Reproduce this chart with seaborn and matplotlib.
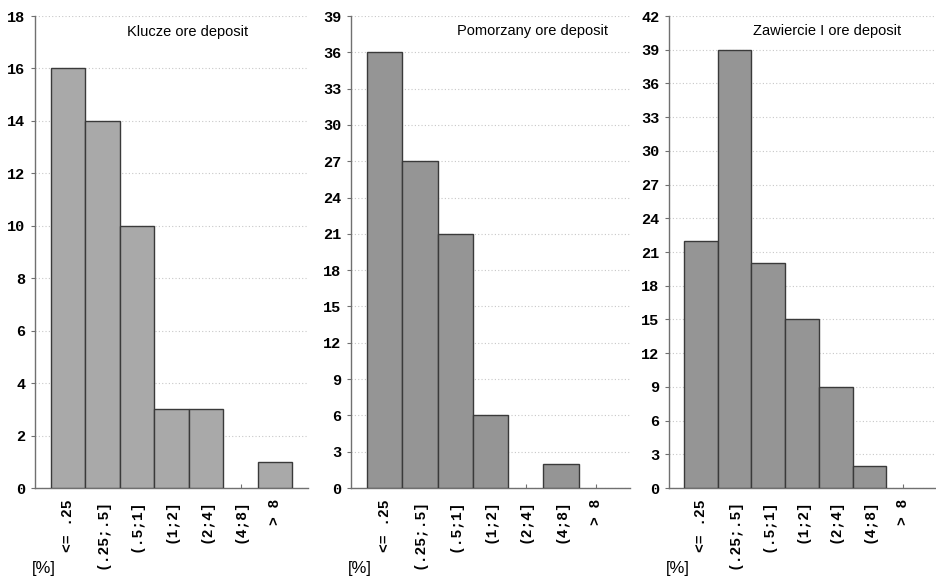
import matplotlib
matplotlib.use("Agg")
import matplotlib.pyplot as plt
import seaborn as sns
import numpy as np
import pandas as pd

categories = ["<= .25", "(.25;.5]", "(.5;1]", "(1;2]", "(2;4]", "(4;8]", "> 8"]
klucze = [16, 14, 10, 3, 3, 0, 1]
pomorzany = [36, 27, 21, 6, 0, 2, 0]
zawiercie = [22, 39, 20, 15, 9, 2, 0]
titles = ["Klucze ore deposit", "Pomorzany ore deposit", "Zawiercie I ore deposit"]
ymax = [18, 39, 42]
ystep = [2, 3, 3]
unit_label = "[%]"

sns.set_theme(style="white")
plt.rcParams['font.family'] = ['Liberation Sans', 'DejaVu Sans']

fig = plt.figure(figsize=(9.36, 5.8), dpi=100)
W, H = 936, 580
panels = [(35, 308), (351, 630), (669, 935)]
bottom_px, top_px = 488, 16
title_pos = [(0.56, 0.966), (0.65, 0.968), (0.594, 0.968)]
colors = ["#a9a9a9", "#959595", "#959595"]

series = [klucze, pomorzany, zawiercie]
for i, (vals, (l, r)) in enumerate(zip(series, panels)):
    ax = fig.add_axes([l / W, 1 - bottom_px / H, (r - l) / W, (bottom_px - top_px) / H])
    df = pd.DataFrame({"cat": categories, "val": vals})
    sns.barplot(data=df, x="cat", y="val", ax=ax, width=1.0, color=colors[i],
                saturation=1, edgecolor="#3a3a3a", linewidth=1.0, zorder=3)
    for p, v in zip(ax.patches, vals):
        if v == 0:
            p.set_visible(False)
    ax.set_xlim(-0.95, 6.95)
    ax.set_ylim(0, ymax[i])
    ax.set_yticks(np.arange(0, ymax[i] + 0.1, ystep[i]))
    ax.yaxis.grid(True, linestyle=(0, (1, 2)), color="#c8c8c8", linewidth=0.8, zorder=0)
    ax.xaxis.grid(False)
    ax.set_xlabel("")
    ax.set_ylabel("")
    for s in ["top", "right"]:
        ax.spines[s].set_visible(False)
    for s in ["left", "bottom"]:
        ax.spines[s].set_color("#707070")
        ax.spines[s].set_linewidth(1.0)
    ax.tick_params(axis="y", which="major", left=True, length=3, width=0.8,
                   color="#707070", pad=4)
    ax.tick_params(axis="x", which="major", bottom=True, direction="in", length=3,
                   width=0.8, color="#707070", pad=8)
    for lab in ax.get_yticklabels():
        lab.set_fontfamily("Liberation Mono")
        lab.set_fontweight("bold")
        lab.set_fontsize(11)
        lab.set_color("#000000")
    ax.set_xticks(range(len(categories)))
    ax.set_xticklabels(categories, rotation=90, fontfamily="Liberation Mono",
                       fontweight="bold", fontsize=10.5, color="#000000", va="top")
    ax.text(title_pos[i][0], title_pos[i][1], titles[i], transform=ax.transAxes,
            ha="center", va="center", fontsize=10.5, color="#000000")
    fig.text((l - 3) / W, 1 - 569 / H, unit_label, ha="left", va="center",
             fontsize=12, color="#000000")

fig.savefig("out.png", dpi=100)
